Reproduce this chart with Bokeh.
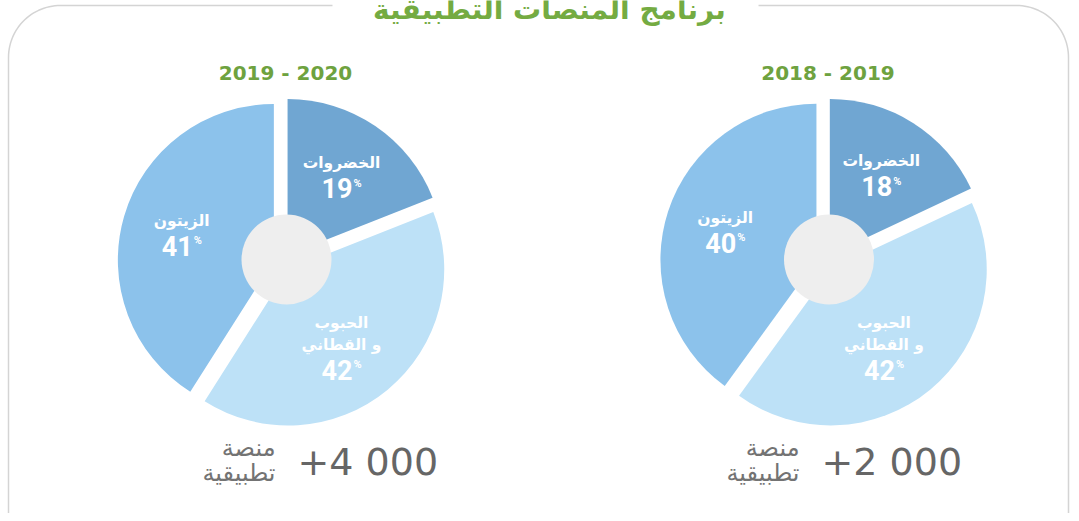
import numpy as np
from bokeh.plotting import figure
from bokeh.models import Range1d
from bokeh.core.properties import value
from bokeh.embed import file_html
from bokeh.resources import INLINE

# ---------------- data ----------------
main_title = "برنامج المنصات التطبيقية"
periods = ["2019 - 2020", "2018 - 2019"]
category_lines = [["الخضروات"], ["الحبوب", "و القطاني"], ["الزيتون"]]
shares_2019_2020 = [19, 42, 41]
shares_2018_2019 = [18, 42, 40]
platform_counts = ["+4 000", "+2 000"]
platform_unit = ["منصة", "تطبيقية"]

# ---------------- style ----------------
slice_colors = ["#70a6d2", "#bde1f7", "#8cc2eb"]
GREEN = "#6ea23f"
NUM_GRAY = "#666666"
UNIT_GRAY = "#737373"
AR_FONT = value("DejaVu Sans")
NUM_FONT = value("Roboto")

W, H = 1071, 513


def Y(iy):
    return -iy


p = figure(width=W, height=H,
           x_range=Range1d(0, W), y_range=Range1d(-H, 0),
           x_axis_type=None, y_axis_type=None,
           output_backend="svg", toolbar_location=None, min_border=0,
           background_fill_color="white", border_fill_color="white")
p.outline_line_color = None

# ---------------- rounded frame ----------------
rr = 52
L, Rt, T, B = 8, 1068, 5, 540
a = np.linspace(np.pi / 2, np.pi, 30)
lx = [332] + list(L + rr + rr * np.cos(a)) + [L]
ly = [T] + list(T + rr - rr * np.sin(a)) + [B]
a2 = np.linspace(np.pi / 2, 0, 30)
rx = [758] + list(Rt - rr + rr * np.cos(a2)) + [Rt]
ry = [T] + list(T + rr - rr * np.sin(a2)) + [B]
for xs_, ys_ in ((lx, ly), (rx, ry)):
    p.line(xs_, [Y(v) for v in ys_], line_color="#d4d4d4", line_width=1.5)

# main title (partly cut off at the top)
p.text(x=[549], y=[Y(9)], text=[main_title], text_font=AR_FONT,
       text_font_size="28px", text_font_style="bold", text_color="#74ab42",
       text_align="center", text_baseline="alphabetic")

# ---------------- pies ----------------
centers = [(282, 262), (824.5, 262)]
bottom_anchor = [286, 810]
R_PIE, EXPLODE, LABEL_R = 156, 9, 105

for (cx, cy), shares, period, count, anc in zip(
        centers, [shares_2019_2020, shares_2018_2019], periods,
        platform_counts, bottom_anchor):
    top = np.pi / 2
    a0 = top - shares[0] / 100 * 2 * np.pi      # first slice clockwise from top
    aL = top + shares[2] / 100 * 2 * np.pi      # last slice anticlockwise from top
    starts = [a0, aL, top]
    ends = [top, a0 + 2 * np.pi, aL]
    mids = [(s + e) / 2 for s, e in zip(starts, ends)]
    wx = [cx + EXPLODE * np.cos(m) for m in mids]
    wy = [Y(cy) + EXPLODE * np.sin(m) for m in mids]
    p.wedge(x=wx, y=wy, radius=R_PIE, start_angle=starts, end_angle=ends,
            fill_color=slice_colors, line_color=None)

    # centre disc
    p.circle(x=[cx + 4], y=[Y(cy - 3)], radius=45, fill_color="#eeeeee",
             line_color=None)

    # slice labels
    for i, m in enumerate(mids):
        px = cx + LABEL_R * np.cos(m)
        py = cy - LABEL_R * np.sin(m)
        if len(category_lines[i]) > 1:
            px -= 8
            py += 3
        names = category_lines[i]
        total = (len(names) - 1) * 22 + 25
        y0 = py - total / 2
        name_y = [y0 + 22 * k for k in range(len(names))]
        num_y = y0 + total
        p.text(x=[px] * len(names), y=[Y(v) for v in name_y], text=names,
               text_font=AR_FONT, text_font_size="15.5px",
               text_font_style="bold", text_color="white",
               text_align="center", text_baseline="middle")
        p.text(x=[px + 11], y=[Y(num_y)], text=[str(shares[i])],
               text_font=NUM_FONT, text_font_size="27px",
               text_font_style="bold", text_color="white",
               text_align="right", text_baseline="middle")
        p.text(x=[px + 12], y=[Y(num_y - 5)], text=["%"],
               text_font=NUM_FONT, text_font_size="11px",
               text_font_style="bold", text_color="white",
               text_align="left", text_baseline="middle")

    # period title
    p.text(x=[cx + 3], y=[Y(72)], text=[period], text_font=value("DejaVu Sans"),
           text_font_size="20px", text_font_style="bold", text_color=GREEN,
           text_align="center", text_baseline="middle")

    # platform count
    p.text(x=[anc + 11], y=[Y(461)], text=[count], text_font=value("DejaVu Sans"),
           text_font_size="38px", text_color=NUM_GRAY,
           text_align="left", text_baseline="middle")
    p.text(x=[anc - 11] * 2, y=[Y(447), Y(472)], text=platform_unit,
           text_font=AR_FONT, text_font_size="24px", text_color=UNIT_GRAY,
           text_align="right", text_baseline="middle")

open("out.html", "w").write(file_html(p, INLINE))
